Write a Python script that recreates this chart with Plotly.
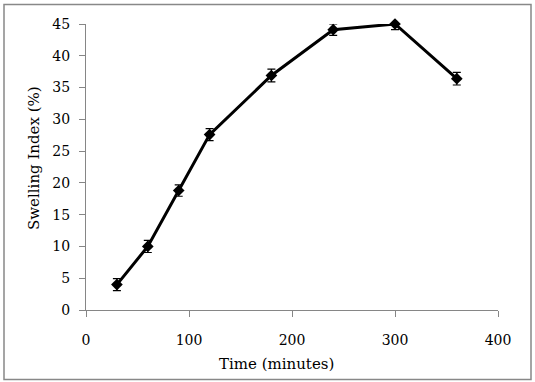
import plotly.graph_objects as go

# Data
time_min = [30, 60, 90, 120, 180, 240, 300, 360]
swelling = [4.0, 10.0, 18.8, 27.6, 36.9, 44.1, 45.0, 36.4]
err_plus = [0.95, 0.95, 0.9, 0.95, 1.0, 0.9, 0.0, 1.0]
err_minus = [0.95, 0.95, 0.9, 0.95, 1.0, 0.9, 0.9, 1.0]
x_ticks = [0, 100, 200, 300, 400]
y_ticks = [0, 5, 10, 15, 20, 25, 30, 35, 40, 45]

FONT = "DejaVu Serif"
W, H = 535, 382
L, R, T, B = 86, 37, 24, 72
pw, ph = W - L - R, H - T - B

def px_to_paper_x(px):
    return (px - L) / pw

def px_to_paper_y(py):
    return (H - B - py) / ph

fig = go.Figure()
fig.add_trace(go.Scatter(
    x=time_min, y=swelling,
    mode="lines+markers",
    line=dict(color="black", width=3),
    marker=dict(symbol="diamond", size=9, color="black"),
    error_y=dict(type="data", symmetric=False, array=err_plus, arrayminus=err_minus,
                 color="black", thickness=1.2, width=4),
    cliponaxis=False,
    showlegend=False,
))

axis_common = dict(
    showline=True, linecolor="#868686", linewidth=1,
    ticks="outside", tickcolor="#868686", ticklen=6, tickwidth=1,
    showgrid=False, zeroline=False,
    tickfont=dict(family=FONT, size=14, color="black"),
)

fig.update_layout(
    width=W, height=H,
    margin=dict(l=L, r=R, t=T, b=B),
    paper_bgcolor="white", plot_bgcolor="white",
    xaxis=dict(range=[0, 400], tickvals=x_ticks, ticklabelstandoff=11, **axis_common),
    yaxis=dict(range=[0, 45], tickvals=y_ticks, ticklabelstandoff=6, **axis_common),
    font=dict(family=FONT, size=14, color="black"),
)

fig.add_annotation(
    text="Time (minutes)", xref="paper", yref="paper",
    x=px_to_paper_x(276), y=px_to_paper_y(364),
    showarrow=False, font=dict(family=FONT, size=15, color="black"),
    xanchor="center", yanchor="middle",
)
fig.add_annotation(
    text="Swelling Index (%)", xref="paper", yref="paper",
    x=px_to_paper_x(34), y=px_to_paper_y(158), textangle=-90,
    showarrow=False, font=dict(family=FONT, size=15, color="black"),
    xanchor="center", yanchor="middle",
)

fig.add_shape(
    type="rect", xref="paper", yref="paper",
    x0=px_to_paper_x(4), x1=px_to_paper_x(531),
    y0=px_to_paper_y(379.5), y1=px_to_paper_y(4.5),
    line=dict(color="#888888", width=1.5), fillcolor="rgba(0,0,0,0)",
    layer="below",
)

fig.write_html("out.html", config={"displayModeBar": False},
               post_script="document.body.style.margin='0';")
